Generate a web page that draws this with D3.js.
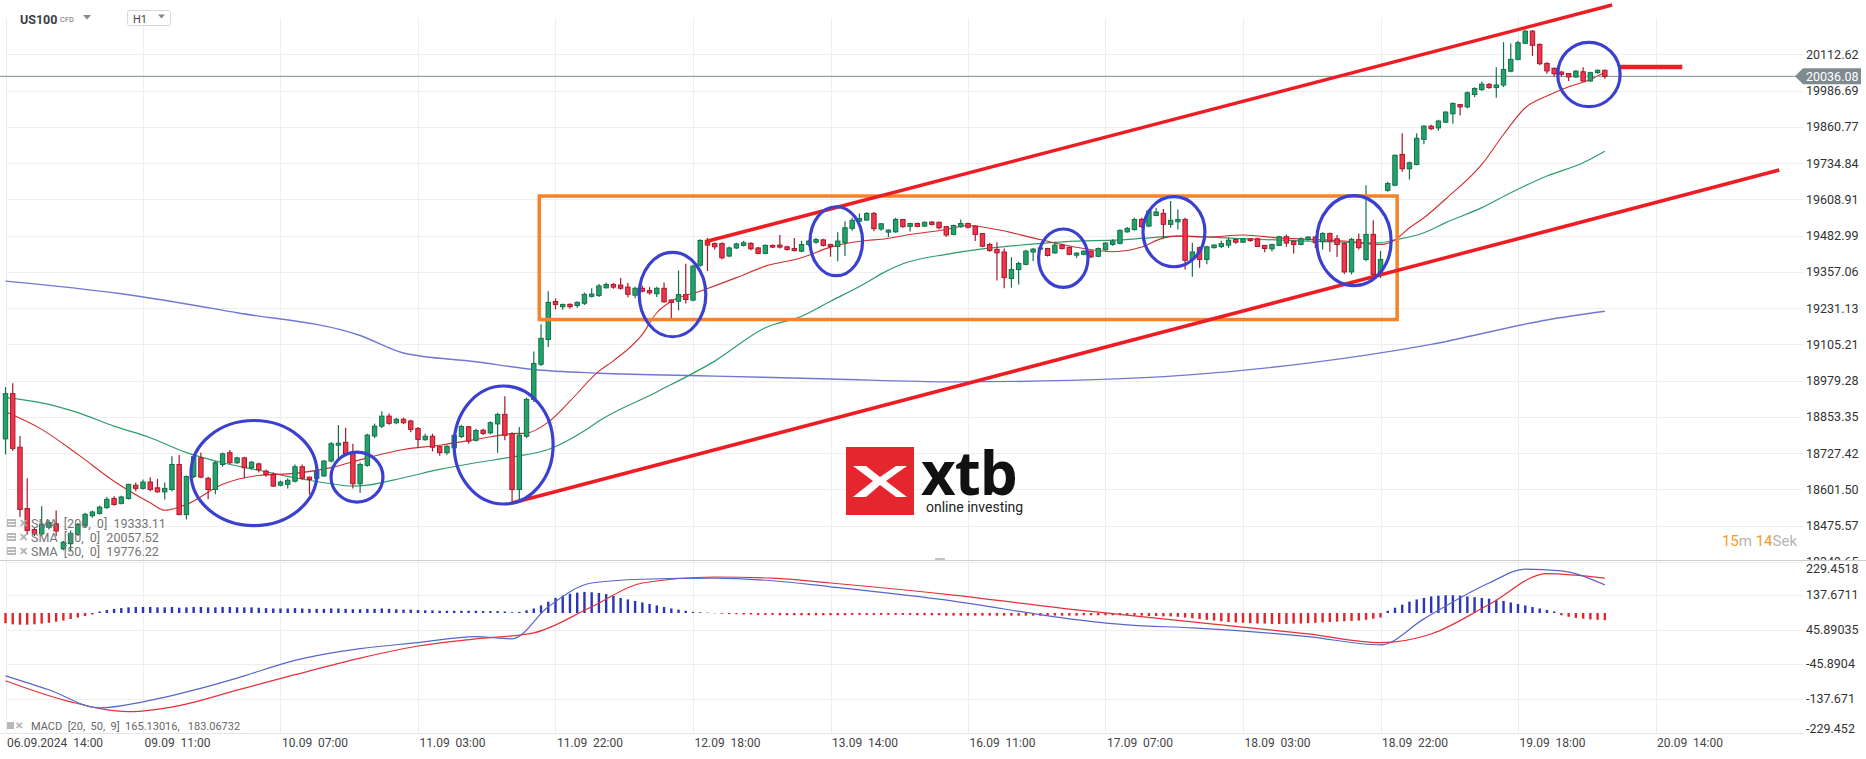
<!DOCTYPE html>
<html>
<head>
<meta charset="utf-8">
<script src="https://cdn.jsdelivr.net/npm/d3@7"></script>
<style>
  body { margin: 0; background: #fff; }
  svg text { font-family: Roboto, "Noto Sans", sans-serif; }
</style>
</head>
<body>
<div id="chart"></div>
<script>
// ---- data (US100 CFD, H1) ----
const xTickIdx = [0, 19, 38, 57, 76, 95, 114, 133, 152, 171, 190, 209, 228];
const xTickLabels = ["06.09.2024  14:00", "09.09  11:00", "10.09  07:00", "11.09  03:00", "11.09  22:00",
  "12.09  18:00", "13.09  14:00", "16.09  11:00", "17.09  07:00", "18.09  03:00", "18.09  22:00",
  "19.09  18:00", "20.09  14:00"];
const priceTickLabels = ["20112.62", "19986.69", "19860.77", "19734.84", "19608.91", "19482.99", "19357.06",
  "19231.13", "19105.21", "18979.28", "18853.35", "18727.42", "18601.50", "18475.57", "18349.65"];
const macdTickLabels = ["229.4518", "137.6711", "45.89035", "-45.8904", "-137.671", "-229.452"];

const opens = [
  18777,18934,18748,18535,18462,18447,18470,18482,18395,18413,
  18445,18477,18510,18518,18538,18570,18553,18570,18616,18605,
  18627,18607,18593,18601,18688,18514,18646,18711,18640,18601,
  18688,18729,18694,18711,18677,18690,18665,18653,18616,18619,
  18630,18680,18644,18640,18648,18700,18755,18765,18729,18621,
  18685,18787,18821,18856,18833,18845,18839,18813,18774,18786,
  18750,18729,18746,18785,18819,18772,18807,18798,18829,18862,
  18795,18601,18786,18914,19036,19122,19254,19236,19244,19240,
  19248,19272,19275,19302,19313,19311,19304,19276,19300,19292,
  19281,19300,19259,19255,19278,19259,19380,19460,19455,19455,
  19412,19440,19449,19456,19440,19421,19449,19450,19444,19438,
  19429,19452,19460,19468,19452,19445,19458,19508,19533,19537,
  19560,19506,19495,19496,19539,19515,19525,19516,19530,19529,
  19514,19487,19514,19525,19516,19490,19452,19435,19426,19334,
  19365,19383,19426,19436,19438,19423,19450,19442,19415,19418,
  19429,19411,19434,19452,19456,19496,19504,19539,19516,19553,
  19560,19522,19531,19539,19400,19441,19400,19441,19445,19450,
  19470,19460,19472,19472,19449,19437,19449,19479,19463,19452,
  19470,19478,19462,19490,19472,19455,19357,19469,19400,19487,
  19348,19640,19658,19765,19715,19730,19817,19863,19857,19877,
  19906,19938,19930,19973,19990,20008,19997,20006,20054,20095,
  20151,20193,20147,20081,20064,20051,20046,20034,20052,20020,
  20049,20057];
const highs = [
  18957,18970,18787,18640,18468,18543,18495,18528,18422,18459,
  18485,18520,18528,18545,18575,18578,18579,18621,18625,18636,
  18644,18638,18625,18717,18721,18650,18725,18730,18645,18700,
  18730,18738,18715,18715,18700,18695,18670,18660,18632,18640,
  18688,18688,18645,18668,18703,18766,18825,18816,18760,18695,
  18795,18830,18873,18865,18850,18851,18843,18818,18795,18795,
  18752,18755,18795,18826,18822,18812,18812,18838,18868,18925,
  18800,18818,18920,19080,19175,19290,19265,19246,19248,19255,
  19285,19300,19315,19320,19318,19336,19319,19305,19310,19304,
  19305,19320,19262,19362,19385,19382,19470,19475,19460,19460,
  19445,19458,19465,19460,19443,19452,19452,19485,19448,19475,
  19465,19468,19475,19472,19455,19495,19533,19545,19560,19565,
  19565,19527,19505,19545,19540,19528,19528,19532,19533,19532,
  19516,19521,19539,19528,19519,19492,19458,19460,19438,19408,
  19392,19434,19440,19445,19441,19462,19455,19445,19425,19432,
  19432,19442,19460,19470,19505,19513,19545,19545,19575,19580,
  19575,19603,19574,19545,19458,19445,19448,19453,19465,19475,
  19473,19475,19475,19476,19450,19455,19482,19487,19466,19477,
  19480,19482,19495,19494,19485,19460,19475,19490,19658,19536,
  19430,19670,19765,19838,19740,19838,19866,19868,19885,19915,
  19945,19940,19983,19998,20018,20013,20068,20155,20150,20160,
  20197,20197,20150,20085,20067,20055,20048,20058,20068,20052,
  20060,20060];
const lows = [
  18723,18735,18506,18445,18439,18440,18462,18439,18390,18387,
  18440,18470,18503,18514,18534,18545,18549,18566,18595,18601,
  18595,18590,18566,18595,18512,18497,18640,18640,18567,18585,
  18680,18690,18690,18640,18670,18660,18645,18610,18612,18605,
  18625,18635,18584,18636,18645,18695,18710,18720,18605,18590,
  18680,18780,18815,18826,18828,18828,18800,18748,18770,18733,
  18718,18722,18743,18780,18760,18768,18790,18793,18729,18772,
  18555,18567,18780,18905,19030,19096,19227,19225,19230,19232,
  19242,19268,19270,19298,19298,19295,19269,19265,19285,19278,
  19270,19250,19192,19223,19247,19255,19375,19360,19435,19400,
  19408,19436,19445,19432,19418,19418,19440,19438,19430,19428,
  19425,19445,19455,19445,19410,19394,19412,19500,19530,19534,
  19498,19500,19478,19493,19510,19497,19512,19513,19518,19505,
  19479,19484,19510,19508,19464,19443,19427,19327,19300,19302,
  19313,19380,19395,19430,19410,19420,19435,19415,19405,19415,
  19405,19408,19430,19448,19452,19493,19500,19510,19512,19550,
  19473,19510,19504,19365,19340,19371,19383,19438,19440,19440,
  19455,19457,19462,19443,19425,19428,19447,19444,19421,19449,
  19465,19440,19435,19427,19409,19350,19348,19435,19394,19335,
  19335,19635,19654,19705,19678,19727,19800,19850,19847,19874,
  19871,19900,19925,19964,19985,19993,19962,19999,20050,20092,
  20148,20107,20075,20045,20035,20035,20020,20030,20018,20017,
  20045,20028];
const closes = [
  18934,18744,18532,18459,18447,18480,18486,18457,18418,18449,
  18480,18515,18523,18540,18567,18549,18575,18619,18605,18627,
  18601,18593,18605,18688,18514,18646,18715,18644,18601,18694,
  18725,18694,18711,18677,18696,18670,18653,18613,18627,18633,
  18680,18640,18636,18665,18700,18760,18762,18726,18621,18688,
  18790,18821,18856,18831,18845,18833,18810,18775,18786,18748,
  18729,18751,18789,18820,18769,18806,18796,18833,18862,18789,
  18601,18790,18914,19039,19126,19251,19244,19244,19236,19251,
  19279,19280,19308,19313,19304,19300,19279,19300,19290,19284,
  19300,19253,19251,19278,19261,19377,19466,19450,19444,19406,
  19440,19454,19458,19437,19421,19449,19443,19443,19435,19431,
  19452,19464,19469,19449,19445,19464,19510,19536,19542,19560,
  19507,19524,19502,19539,19514,19525,19515,19529,19522,19510,
  19485,19518,19525,19512,19487,19446,19431,19423,19337,19365,
  19386,19429,19436,19440,19414,19450,19438,19418,19422,19429,
  19409,19438,19457,19464,19501,19508,19539,19514,19568,19565,
  19522,19536,19539,19397,19426,19400,19444,19450,19455,19467,
  19460,19472,19466,19445,19438,19452,19479,19457,19452,19472,
  19478,19458,19490,19464,19452,19357,19470,19441,19487,19348,
  19400,19664,19762,19715,19736,19821,19863,19854,19881,19912,
  19942,19930,19979,19994,20009,19997,20006,20060,20095,20153,
  20193,20144,20080,20055,20045,20043,20034,20054,20020,20049,
  20057,20036];
const lastPrice = 20036.08;

// moving averages: [bar index, value]
const sma20 = [[0,18871],[5,18810],[10,18723],[15,18630],[20,18555],[22,18529],[25,18549],[30,18619],
  [35,18650],[40,18657],[45,18677],[50,18711],[55,18740],[60,18755],[65,18775],[70,18795],[72,18797],
  [75,18835],[78,18908],[82,19012],[84,19048],[88,19140],[90,19215],[92,19255],[96,19290],[101,19337],
  [105,19377],[110,19406],[114,19443],[119,19466],[121,19470],[125,19487],[130,19504],[133,19518],
  [137,19504],[142,19475],[146,19452],[149,19438],[153,19427],[157,19443],[160,19475],[162,19481],
  [166,19478],[171,19485],[176,19475],[180,19470],[185,19464],[190,19452],[192,19468],[194,19510],
  [196,19545],[199,19610],[204,19730],[207,19834],[210,19927],[213,19968],[216,20000],[219,20025],[221,20050]];
const sma50 = [[0,18920],[5,18902],[10,18868],[15,18821],[20,18781],[25,18729],[30,18694],[35,18668],
  [40,18642],[45,18621],[48,18613],[50,18616],[55,18642],[60,18671],[65,18694],[70,18714],[75,18740],
  [80,18805],[82,18839],[90,18940],[98,19047],[105,19163],[110,19203],[114,19255],[119,19320],
  [121,19350],[124,19385],[130,19418],[135,19437],[139,19447],[144,19458],[148,19464],[153,19467],
  [158,19475],[162,19481],[171,19472],[180,19464],[190,19458],[192,19468],[196,19493],[199,19528],
  [204,19580],[208,19632],[213,19690],[218,19736],[221,19776]];
const sma200 = [[0,19325],[16,19281],[32,19215],[49,19136],[55,19075],[65,19045],[73,19018],[82,19005],
  [98,18995],[114,18985],[131,18975],[147,18980],[164,19000],[180,19040],[197,19105],[213,19190],[221,19220]];

const macdLine = [[0,-76],[6,-113],[13,-161],[19,-145],[26,-114],[32,-82],[40,-35],[49,-4],[57,12],
  [65,28],[70,22],[75,107],[81,170],[88,180],[98,183],[106,176],[114,160],[131,122],[147,75],[155,59],
  [164,51],[180,28],[190,6],[196,75],[205,170],[210,207],[215,202],[221,165]];
const signalLine = [[0,-89],[9,-145],[17,-171],[24,-155],[32,-114],[40,-73],[49,-29],[57,3],[65,22],
  [73,38],[81,107],[88,170],[98,186],[106,183],[114,170],[131,138],[147,101],[164,67],[180,35],
  [190,12],[197,35],[205,113],[213,195],[221,183]];
const macdHist = [
  -27,-30,-31,-31,-30,-28,-26,-23,-20,-16,-12,-8,-4,
  4,8,11,13,15,16,16,16,15,15,16,14,15,16,16,15,15,16,16,15,15,15,14,13,12,12,12,13,12,11,
  11,11,12,12,11,10,10,11,11,12,11,10,9,9,8,7,7,6,6,6,6,6,6,5,5,5,4,2,3,7,
  12,20,30,40,46,51,54,56,55,53,50,45,40,36,32,28,24,20,16,12,9,6,3,
  2,1,-1,-2,-3,-3,-4,-4,-5,-5,-5,-6,-6,-6,-6,-6,-6,-6,-6,-6,-6,-5,-5,-5,-5,-5,-5,-5,-5,-5,
  -6,-6,-6,-6,-7,-7,-7,-7,-7,-7,-7,-7,-7,-7,-7,-7,-7,-7,-7,-7,-7,-7,-7,-6,-6,-6,-6,-6,-6,-6,
  -7,-7,-8,-8,-9,-9,-10,
  -12,-14,-16,-18,-20,-22,-24,-25,-26,-27,-28,-28,-29,-29,-29,-28,-28,-27,-26,-25,-24,-23,-22,-21,-20,-18,-15,-12,
  6,14,22,30,36,40,44,46,47,47,46,44,42,40,38,35,32,28,24,20,16,12,8,4,
  -6,-10,-13,-15,-17,-18,-19];

// drawn annotations, in bar index / price units
const channelLines = [[96.66, 19461.7, 222.0, 20283.9], [70.0, 18554, 245.1, 19710.7]];
const rangeBox = [73.76, 19620.4, 192.3, 19191.4];
const stubLine = [223.1, 231.7, 20068.5];
const circles = [ // [bar, price, radius in bars, radius in price]
  [34.34, 18658.3, 8.71, 182.4], [48.57, 18644.4, 3.59, 86.8], [68.83, 18755.6, 6.84, 204.9],
  [92.17, 19278.3, 4.60, 146.6], [114.80, 19463.4, 3.63, 119.8], [146.17, 19404.4, 3.41, 101.4],
  [161.46, 19496.4, 4.28, 121.6], [186.33, 19465.2, 5.14, 156.3], [218.8, 20042.5, 4.31, 111.8]];
const legendRows = ["SMA  [200,  0]  19333.11", "SMA  [20,  0]  20057.52", "SMA  [50,  0]  19776.22"];

// ---- chart ----
const W = 1866, H = 759, plotR = 1803;
const svg = d3.select("#chart").append("svg").attr("width", W).attr("height", H);

const x = d3.scaleLinear().domain([0, 228]).range([5.5, 1655.5]);
const y = d3.scaleLinear().domain([18349.65, 20112.62]).range([561.9, 54.3]);
const my = d3.scaleLinear().domain([-229.452, 229.452]).range([733.7, 560.6]);
const hy = d3.scaleLinear().domain([-100, 100]).range([650.7, 575.3]);
const bars = opens.map((o, i) => ({ i, o, h: highs[i], l: lows[i], c: closes[i] }));

const defs = svg.append("defs");
defs.append("clipPath").attr("id", "main").append("rect").attr("x", 0).attr("y", 18).attr("width", plotR).attr("height", 542);
defs.append("clipPath").attr("id", "sub").append("rect").attr("x", 0).attr("y", 561).attr("width", plotR).attr("height", 172);
defs.append("clipPath").attr("id", "axisTop").append("rect").attr("x", 1800).attr("y", 0).attr("width", 66).attr("height", 560);

// grid
const grid = svg.append("g").attr("stroke", "#eeeeee").attr("shape-rendering", "crispEdges");
grid.selectAll(".gv").data(xTickIdx).join("line")
  .attr("x1", d => Math.round(x(d))).attr("x2", d => Math.round(x(d))).attr("y1", 18).attr("y2", 733);
grid.selectAll(".gh").data(priceTickLabels.map(Number)).join("line")
  .attr("x1", 7).attr("x2", plotR).attr("y1", d => Math.round(y(d))).attr("y2", d => Math.round(y(d)));
grid.selectAll(".gm").data(macdTickLabels.map(Number).slice(1, 5)).join("line")
  .attr("x1", 7).attr("x2", plotR).attr("y1", d => Math.round(my(d))).attr("y2", d => Math.round(my(d)));
svg.append("line").attr("x1", 0).attr("x2", W).attr("y1", 560.5).attr("y2", 560.5).attr("stroke", "#cfcfcf");
svg.append("line").attr("x1", 0).attr("x2", plotR).attr("y1", 733.5).attr("y2", 733.5).attr("stroke", "#e6e6e6");
svg.append("rect").attr("x", 935).attr("y", 558).attr("width", 10).attr("height", 2).attr("fill", "#c4c4c4");

// watermark logo
const logo = svg.append("g");
logo.append("rect").attr("x", 846).attr("y", 447).attr("width", 68).attr("height", 68).attr("fill", "#e5262f");
logo.append("path").attr("fill", "#fff")
  .attr("d", "M853,466 L866,466 L880,477 L896,466 L907,466 L886,481 L907,497 L896,497 L880,485 L866,497 L853,497 L873,481 Z");
logo.append("text").attr("x", 921).attr("y", 495).attr("font-size", 60).attr("font-weight", 700)
  .style("font-family", "'Open Sans', sans-serif").attr("fill", "#111").attr("letter-spacing", -1).text("xtb");
logo.append("text").attr("x", 926).attr("y", 512).attr("font-size", 14).attr("fill", "#222").text("online investing");

// moving averages
const line = d3.line().x(d => x(d[0])).y(d => y(d[1])).curve(d3.curveMonotoneX);
const main = svg.append("g").attr("clip-path", "url(#main)");
[[sma200, "#6f79d2", 1.4], [sma50, "#2f9b6b", 1.2], [sma20, "#cf2e2e", 1.1]].forEach(([s, col, w]) => {
  main.append("path").datum(s).attr("d", line).attr("fill", "none").attr("stroke", col).attr("stroke-width", w);
});

// current price line
main.append("line").attr("x1", 0).attr("x2", plotR).attr("y1", y(lastPrice)).attr("y2", y(lastPrice))
  .attr("stroke", "#7f9090").attr("stroke-width", 1);

// candles
const up = { fill: "#22a36a", stroke: "#14704a" }, dn = { fill: "#f0364a", stroke: "#a8172a" };
const cg = main.append("g").selectAll("g").data(bars).join("g");
cg.append("line").attr("x1", d => x(d.i)).attr("x2", d => x(d.i))
  .attr("y1", d => y(d.h)).attr("y2", d => y(d.l))
  .attr("stroke", d => (d.c >= d.o ? up : dn).stroke).attr("stroke-width", 1.2);
cg.append("rect").attr("x", d => x(d.i) - 2.2).attr("width", 4.4)
  .attr("y", d => y(Math.max(d.o, d.c))).attr("height", d => Math.max(1, y(Math.min(d.o, d.c)) - y(Math.max(d.o, d.c))))
  .attr("fill", d => (d.c >= d.o ? up : dn).fill).attr("stroke", d => (d.c >= d.o ? up : dn).stroke).attr("stroke-width", 1);

// annotations
const ann = svg.append("g").attr("fill", "none");
ann.append("rect").attr("x", x(rangeBox[0])).attr("y", y(rangeBox[1]))
  .attr("width", x(rangeBox[2]) - x(rangeBox[0])).attr("height", y(rangeBox[3]) - y(rangeBox[1]))
  .attr("stroke", "#f5832b").attr("stroke-width", 3.5);
ann.selectAll(".ch").data(channelLines).join("line")
  .attr("x1", d => x(d[0])).attr("y1", d => y(d[1])).attr("x2", d => x(d[2])).attr("y2", d => y(d[3]))
  .attr("stroke", "#ee1d24").attr("stroke-width", 3.5);
ann.append("line").attr("x1", x(stubLine[0])).attr("x2", x(stubLine[1])).attr("y1", y(stubLine[2])).attr("y2", y(stubLine[2]))
  .attr("stroke", "#ee1d24").attr("stroke-width", 4.5);
ann.selectAll("ellipse").data(circles).join("ellipse")
  .attr("cx", d => x(d[0])).attr("cy", d => y(d[1]))
  .attr("rx", d => x(d[0] + d[2]) - x(d[0])).attr("ry", d => y(d[1] - d[3]) - y(d[1]))
  .attr("stroke", "#3b40cf").attr("stroke-width", 3.2);

// MACD panel
const sub = svg.append("g").attr("clip-path", "url(#sub)");
sub.selectAll(".hb").data(macdHist).join("rect")
  .attr("x", (d, i) => x(i) - 1.2).attr("width", 2.4)
  .attr("y", d => Math.min(hy(d), hy(0))).attr("height", d => Math.abs(hy(d) - hy(0)))
  .attr("fill", d => d >= 0 ? "#2b36b4" : "#e3242b");
const mline = d3.line().x(d => x(d[0])).y(d => my(d[1])).curve(d3.curveMonotoneX);
sub.append("path").datum(signalLine).attr("d", mline).attr("fill", "none").attr("stroke", "#e2323a").attr("stroke-width", 1.2);
sub.append("path").datum(macdLine).attr("d", mline).attr("fill", "none").attr("stroke", "#5866c8").attr("stroke-width", 1.2);

// price axis (labels cut off at the panel edge, as in the original)
svg.append("g").attr("clip-path", "url(#axisTop)").append("g").attr("transform", `translate(${1806},0)`)
  .call(d3.axisRight(y).tickValues(priceTickLabels.map(Number)).tickFormat((d, k) => priceTickLabels[k]).tickSize(0).tickPadding(0))
  .call(g => g.select(".domain").remove())
  .selectAll("text").attr("font-size", 12.5).attr("fill", "#333").style("font-family", "Roboto");
svg.append("g").attr("transform", `translate(${1806},0)`)
  .call(d3.axisRight(my).tickValues(macdTickLabels.map(Number)).tickFormat((d, k) => macdTickLabels[k]).tickSize(0).tickPadding(0))
  .call(g => g.select(".domain").remove())
  .call(g => g.selectAll(".tick").attr("transform", d => `translate(0,${Math.min(729, Math.max(569, my(d)))})`))
  .selectAll("text").attr("font-size", 12.5).attr("fill", "#333").style("font-family", "Roboto");

// last price tag
const ly = y(lastPrice);
svg.append("path").attr("d", `M1795,${ly} L1803,${ly - 8} L1861,${ly - 8} L1861,${ly + 8} L1803,${ly + 8} Z`).attr("fill", "#7e8a8e");
svg.append("text").attr("x", 1806).attr("y", ly + 4.5).attr("font-size", 12.5).attr("fill", "#fff").text(lastPrice.toFixed(2));

// time axis
svg.append("g").attr("transform", "translate(0,733)")
  .call(d3.axisBottom(x).tickValues(xTickIdx).tickFormat((d, k) => xTickLabels[k]).tickSize(0).tickPadding(5))
  .call(g => g.select(".domain").remove())
  .selectAll("text").attr("text-anchor", "start").attr("dx", 1).attr("font-size", 12).attr("fill", "#444")
  .style("font-family", "Roboto").style("white-space", "pre");

// legends
const leg = svg.append("g");
legendRows.forEach((t, k) => {
  const ty = 523 + k * 14;
  leg.append("rect").attr("x", 7).attr("y", ty - 4).attr("width", 9).attr("height", 8).attr("fill", "#b9b9b9");
  leg.append("rect").attr("x", 8).attr("y", ty - 2).attr("width", 7).attr("height", 1).attr("fill", "#fff");
  leg.append("rect").attr("x", 8).attr("y", ty + 1).attr("width", 7).attr("height", 1).attr("fill", "#fff");
  leg.append("text").attr("x", 19).attr("y", ty + 4).attr("font-size", 11).attr("font-weight", 700).attr("fill", "#b0b0b0").text("✕");
  leg.append("text").attr("x", 31).attr("y", ty + 4.5).attr("font-size", 12.5).attr("fill", "#757575")
    .style("white-space", "pre").text(t);
});
leg.append("rect").attr("x", 7).attr("y", 722).attr("width", 7).attr("height", 7).attr("fill", "#b9b9b9");
leg.append("text").attr("x", 15).attr("y", 729).attr("font-size", 10).attr("font-weight", 700).attr("fill", "#b0b0b0").text("✕");
leg.append("text").attr("x", 31).attr("y", 730).attr("font-size", 11).attr("fill", "#666")
  .style("white-space", "pre").text("MACD  [20,  50,  9]  165.13016,   183.06732");

// header
const hd = svg.append("g");
hd.append("text").attr("x", 20).attr("y", 24).attr("font-size", 12.5).attr("font-weight", 700).attr("fill", "#3a3f44").text("US100");
hd.append("text").attr("x", 60).attr("y", 21.5).attr("font-size", 7.5).attr("fill", "#6b6b6b").text("CFD");
hd.append("path").attr("d", "M83,15 L91,15 L87,19.5 Z").attr("fill", "#888");
hd.append("rect").attr("x", 127.5).attr("y", 10.5).attr("width", 43).attr("height", 15).attr("rx", 2)
  .attr("fill", "#fff").attr("stroke", "#d8d8d8");
hd.append("text").attr("x", 133).attr("y", 23).attr("font-size", 11).attr("fill", "#444").text("H1");
hd.append("path").attr("d", "M158,14.5 L165,14.5 L161.5,18.5 Z").attr("fill", "#888");

// countdown
svg.append("text").attr("x", 1797).attr("y", 546).attr("text-anchor", "end").attr("font-size", 15)
  .call(t => {
    t.append("tspan").attr("fill", "#f59b22").text("15");
    t.append("tspan").attr("fill", "#b5b5b5").text("m ");
    t.append("tspan").attr("fill", "#f59b22").text("14");
    t.append("tspan").attr("fill", "#b5b5b5").text("Sek");
  });
</script>
</body>
</html>
